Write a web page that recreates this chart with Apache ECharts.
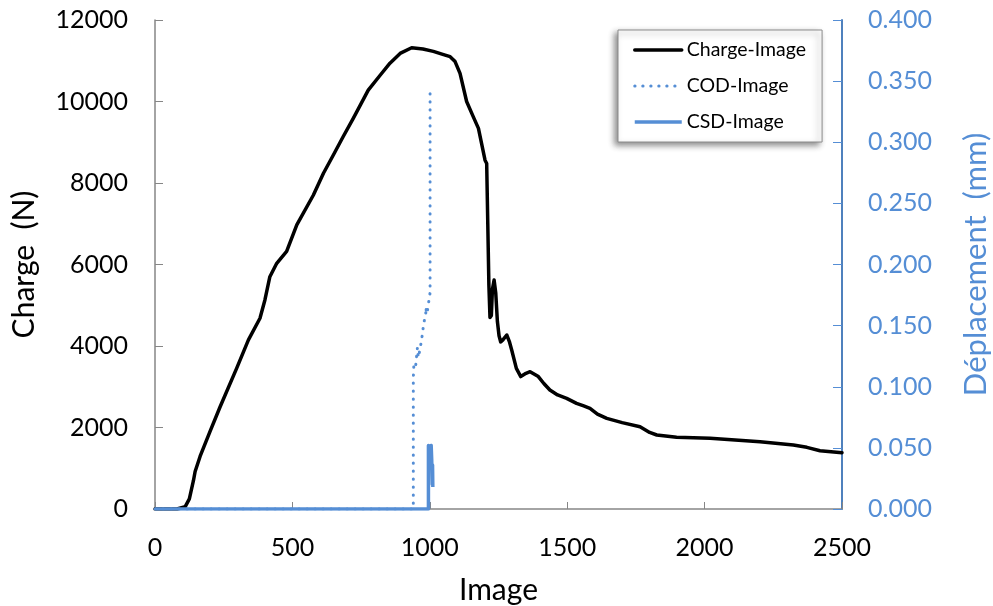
<html lang="fr">
<head>
  <meta charset="utf-8"/>
  <script src="https://cdn.jsdelivr.net/npm/echarts@6/dist/echarts.min.js"></script>
  <style>
    html, body { margin: 0; padding: 0; background: #fff; }
    #chart { width: 993px; height: 606px; }
  </style>
</head>
<body>
<div id="chart"></div>
<script>
  // données
  var chargeImage = [
    [0, 0], [80, 0], [110, 60], [125, 250], [140, 700], [146, 920], [164, 1290], [200, 1900],
    [237, 2510], [297, 3450], [340, 4150], [382, 4680], [400, 5130], [418, 5700], [443, 6030],
    [479, 6320], [516, 6970], [576, 7700], [613, 8240], [650, 8700], [685, 9140], [722, 9590],
    [776, 10280], [820, 10650], [855, 10940], [892, 11180], [934, 11320], [975, 11290],
    [1013, 11230], [1050, 11150], [1074, 11100], [1092, 10980], [1110, 10690], [1134, 10000],
    [1158, 9630], [1177, 9340], [1201, 8560], [1207, 8480], [1211, 7000], [1215, 5500],
    [1219, 4700], [1224, 4750], [1228, 5400], [1234, 5620], [1240, 5300], [1246, 4600],
    [1252, 4250], [1258, 4100], [1266, 4150], [1280, 4270], [1290, 4100], [1298, 3900],
    [1315, 3450], [1331, 3250], [1350, 3330], [1365, 3370], [1395, 3250], [1415, 3080],
    [1437, 2920], [1465, 2800], [1498, 2716], [1534, 2593], [1560, 2530], [1583, 2470],
    [1610, 2330], [1644, 2225], [1700, 2120], [1765, 2020], [1800, 1880], [1826, 1816],
    [1898, 1759], [2020, 1734], [2202, 1652], [2323, 1570], [2372, 1513], [2420, 1431],
    [2500, 1382]
  ];
  var codImage = [
    [0, 0], [940, 0], [940, 0.105], [941, 0.115], [944, 0.12], [949, 0.118], [952, 0.125],
    [955, 0.132], [958, 0.124], [962, 0.128], [966, 0.133], [970, 0.138], [974, 0.145],
    [978, 0.152], [984, 0.158], [988, 0.165], [985, 0.16], [992, 0.163], [995, 0.168],
    [998, 0.172], [1001, 0.177], [1001, 0.341]
  ];
  var csdImage = [
    [0, 0], [995, 0], [995, 0.052], [999, 0.053], [1002, 0.05], [1005, 0.052], [1007, 0.04],
    [1009, 0.02], [1010, 0.036], [1011, 0.018]
  ];
  var seriesNames = ['Charge-Image', 'COD-Image', 'CSD-Image'];

  var FONT = 'Lato';
  var BLUE = '#558ED5';
  var GRAY = '#868686';
  var dotLine = { color: BLUE, width: 3, type: [0.3, 7.7], cap: 'round' };
  var noSymbol = { color: 'rgba(0,0,0,0)', opacity: 0, borderWidth: 0 };

  var chart = echarts.init(document.getElementById('chart'));
  var option = {
    animation: false,
    backgroundColor: '#fff',
    textStyle: { fontFamily: FONT },
    grid: { left: 155, right: 151, top: 20, bottom: 97, containLabel: false, outerBoundsMode: 'none' },
    legend: {
      orient: 'vertical',
      left: 618,
      top: 30,
      padding: [10, 16, 10, 15],
      itemWidth: 47,
      itemHeight: 20,
      itemGap: 16,
      backgroundColor: '#fff',
      borderColor: '#8c8c8c',
      borderWidth: 1,
      shadowColor: 'rgba(0,0,0,0.45)',
      shadowBlur: 6,
      shadowOffsetX: -3,
      shadowOffsetY: 3,
      textStyle: { fontFamily: FONT, fontSize: 19.5, color: '#000', lineHeight: 20 },
      data: [
        { name: seriesNames[0], itemStyle: noSymbol, lineStyle: { color: '#000', width: 3.5 } },
        { name: seriesNames[1], itemStyle: noSymbol, lineStyle: dotLine },
        { name: seriesNames[2], itemStyle: noSymbol, lineStyle: { color: BLUE, width: 3.5 } }
      ]
    },
    xAxis: {
      type: 'value',
      min: 0, max: 2500, interval: 500,
      name: 'Image',
      nameLocation: 'middle',
      nameGap: 66,
      nameTextStyle: { fontFamily: FONT, fontSize: 30, color: '#000' },
      axisLine: { lineStyle: { color: GRAY, width: 1.5 } },
      axisTick: { inside: true, length: 7, lineStyle: { color: GRAY, width: 1 } },
      axisLabel: {
        fontFamily: FONT, fontSize: 25, color: '#000', margin: 26,
        formatter: function (v) { return String(v); }
      },
      splitLine: { show: false }
    },
    yAxis: [
      {
        type: 'value',
        min: 0, max: 12000, interval: 2000,
        name: 'Charge  (N)',
        nameLocation: 'middle',
        nameGap: 116,
        nameTextStyle: { fontFamily: FONT, fontSize: 30, color: '#000' },
        axisLine: { show: true, lineStyle: { color: GRAY, width: 1.5 } },
        axisTick: { show: true, inside: true, length: 8, lineStyle: { color: GRAY, width: 1 } },
        axisLabel: {
          fontFamily: FONT, fontSize: 25, color: '#000', margin: 27,
          formatter: function (v) { return String(v); }
        },
        splitLine: { show: false }
      },
      {
        type: 'value',
        position: 'right',
        min: 0, max: 0.4, interval: 0.05,
        name: 'Déplacement  (mm)',
        nameLocation: 'middle',
        nameGap: 118,
        nameTextStyle: { fontFamily: FONT, fontSize: 31, color: BLUE },
        axisLine: { show: true, lineStyle: { color: '#4F81BD', width: 2 } },
        axisTick: { show: true, inside: true, length: 9, lineStyle: { color: BLUE, width: 1 } },
        axisLabel: {
          fontFamily: FONT, fontSize: 25, color: BLUE, margin: 26,
          formatter: function (v) { return v.toFixed(3); }
        },
        splitLine: { show: false }
      }
    ],
    series: [
      {
        name: seriesNames[0],
        type: 'line',
        yAxisIndex: 0,
        data: chargeImage,
        symbol: 'none',
        smooth: false,
        lineStyle: { color: '#000', width: 3.5, join: 'round', cap: 'round' },
        itemStyle: { color: '#000' }
      },
      {
        name: seriesNames[1],
        type: 'line',
        yAxisIndex: 1,
        data: codImage,
        symbol: 'none',
        lineStyle: dotLine,
        itemStyle: { color: BLUE }
      },
      {
        name: seriesNames[2],
        type: 'line',
        yAxisIndex: 1,
        data: csdImage,
        symbol: 'none',
        lineStyle: { color: BLUE, width: 3.5, join: 'round' },
        itemStyle: { color: BLUE }
      }
    ]
  };
  chart.setOption(option);
</script>
</body>
</html>
